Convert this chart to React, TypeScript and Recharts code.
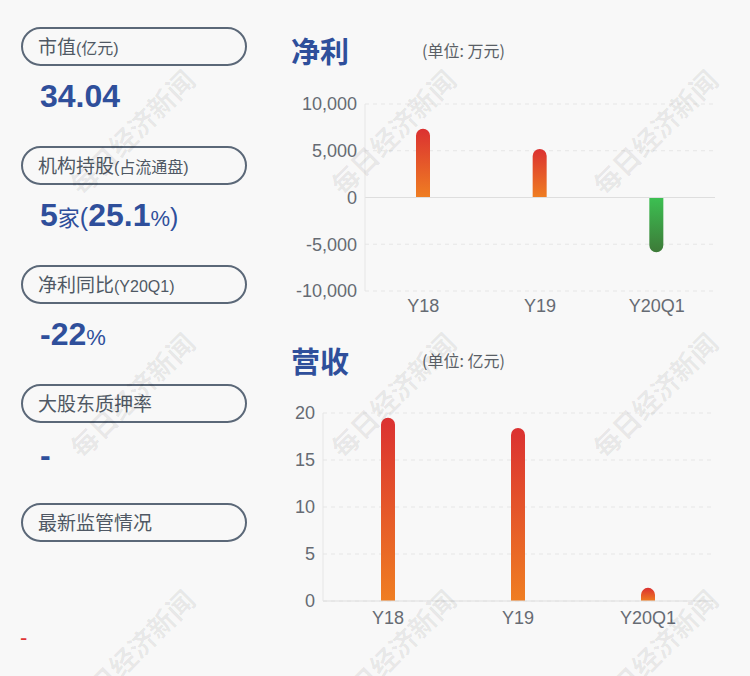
import React from 'react';
import { BarChart, Bar, XAxis, YAxis, CartesianGrid, ReferenceLine } from 'recharts';

const categories = ['Y18', 'Y19', 'Y20Q1'];
const profitValues = [7350, 5200, -5850];
const revenueValues = [19.5, 18.4, 1.4];
const profitTicks = [-10000, -5000, 0, 5000, 10000];
const revenueTicks = [0, 5, 10, 15, 20];

const BLUE = '#2f4f9b';
const FONT = "'Liberation Sans', Arial, 'Noto Sans CJK SC', sans-serif";
const CJK = "'Noto Sans CJK SC', 'Liberation Sans', sans-serif";

const profitData = categories.map((c, i) => ({ name: c, value: profitValues[i] }));
const revenueData = categories.map((c, i) => ({ name: c, value: revenueValues[i] }));

// bar with a rounded end (top for positive, bottom for negative)
function RoundBar(props: any) {
  const { x, y, width, height, payload } = props;
  if (width == null || height == null) return null;
  const neg = payload && payload.value < 0;
  const top = Math.min(y, y + height);
  const h = Math.abs(height);
  const r = Math.min(width / 2, h);
  const fill = neg ? 'url(#gradGreen)' : 'url(#gradRed)';
  let d;
  if (!neg) {
    d = `M${x},${top + h} L${x},${top + r} A${r},${r} 0 0 1 ${x + width},${top + r} L${x + width},${top + h} Z`;
  } else {
    d = `M${x},${top} L${x + width},${top} L${x + width},${top + h - r} A${r},${r} 0 0 1 ${x},${top + h - r} Z`;
  }
  return <path d={d} fill={fill} />;
}

const fmt = (v: number) => v.toLocaleString('en-US');

function Gradients() {
  return (
    <defs>
      <linearGradient id="gradRed" x1="0" y1="0" x2="0" y2="1">
        <stop offset="0%" stopColor="#db3131" />
        <stop offset="100%" stopColor="#ef7e22" />
      </linearGradient>
      <linearGradient id="gradGreen" x1="0" y1="0" x2="0" y2="1">
        <stop offset="0%" stopColor="#3cc052" />
        <stop offset="100%" stopColor="#3d7a38" />
      </linearGradient>
    </defs>
  );
}

const tickStyle = { fill: '#666b73', fontSize: 18, fontFamily: FONT };

function Pill({ top, main, sub }: { top: number; main: string; sub?: string }) {
  return (
    <div
      style={{
        position: 'absolute',
        left: 21,
        top,
        width: 226,
        height: 39,
        boxSizing: 'border-box',
        border: '2px solid #5b6878',
        borderRadius: 20,
        paddingLeft: 15,
        lineHeight: '34px',
        color: '#4f5864',
        fontFamily: CJK,
        fontSize: 19,
        whiteSpace: 'nowrap',
      }}
    >
      {main}
      {sub && <span style={{ fontSize: 16, fontFamily: FONT }}>{sub}</span>}
    </div>
  );
}

function Value({ top, children }: { top: number; children: React.ReactNode }) {
  return (
    <div
      style={{
        position: 'absolute',
        left: 40,
        top,
        height: 40,
        lineHeight: '40px',
        color: BLUE,
        fontFamily: FONT,
        fontWeight: 'bold',
        fontSize: 32,
        whiteSpace: 'nowrap',
      }}
    >
      {children}
    </div>
  );
}

const small = { fontSize: 22, fontWeight: 'normal' as const };

function Title({ top, text, unit }: { top: number; text: string; unit: string }) {
  return (
    <>
      <div
        style={{
          position: 'absolute', left: 291, top, height: 40, lineHeight: '40px',
          color: BLUE, fontFamily: CJK, fontWeight: 'bold', fontSize: 29,
        }}
      >
        {text}
      </div>
      <div
        style={{
          position: 'absolute', left: 422, top, height: 40, lineHeight: '40px',
          color: '#5a5f66', fontFamily: CJK, fontSize: 16,
        }}
      >
        {unit}
      </div>
    </>
  );
}

const marks = [132, 393, 655].flatMap((x) => [132, 395, 652].map((y) => ({ x, y })));

export default function App() {
  return (
    <div
      style={{
        position: 'absolute', left: 0, top: 0, width: 750, height: 676,
        background: '#f8f8f8', overflow: 'hidden',
      }}
    >
      <Pill top={27} main="市值" sub="(亿元)" />
      <Value top={76}>34.04</Value>
      <Pill top={146} main="机构持股" sub="(占流通盘)" />
      <Value top={195}>
        5<span style={{ ...small, fontFamily: CJK }}>家</span>
        <span style={{ fontSize: 25, fontWeight: 'normal' }}>(</span>25.1
        <span style={small}>%</span>
        <span style={{ fontSize: 25, fontWeight: 'normal' }}>)</span>
      </Value>
      <Pill top={265} main="净利同比" sub="(Y20Q1)" />
      <Value top={314}>
        -22<span style={small}>%</span>
      </Value>
      <Pill top={384} main="大股东质押率" />
      <Value top={435}>-</Value>
      <Pill top={503} main="最新监管情况" />
      <div
        style={{
          position: 'absolute', left: 20, top: 618, height: 40, lineHeight: '40px',
          color: '#e03434', fontFamily: FONT, fontSize: 22,
        }}
      >
        -
      </div>

      <Title top={30} text="净利" unit="(单位: 万元)" />
      <div style={{ position: 'absolute', left: 280, top: 90 }}>
        <BarChart
          width={450}
          height={235}
          data={profitData}
          margin={{ top: 14, right: 15, left: 0, bottom: 4 }}
        >
          <Gradients />
          <CartesianGrid vertical={false} stroke="#e6e6e6" strokeDasharray="4 4" />
          <XAxis
            dataKey="name"
            axisLine={false}
            tickLine={false}
            height={30}
            tick={tickStyle}
          />
          <YAxis
            width={85}
            domain={[-10000, 10000]}
            ticks={profitTicks}
            tickFormatter={fmt}
            axisLine={{ stroke: '#e6e6e6' }}
            tickLine={false}
            tick={tickStyle}
          />
          <ReferenceLine y={0} stroke="#dedede" />
          <Bar dataKey="value" barSize={14} shape={RoundBar} isAnimationActive={false} />
        </BarChart>
      </div>

      <Title top={340} text="营收" unit="(单位: 亿元)" />
      <div style={{ position: 'absolute', left: 280, top: 400 }}>
        <BarChart
          width={450}
          height={237}
          data={revenueData}
          margin={{ top: 13, right: 17, left: 0, bottom: 4 }}
        >
          <Gradients />
          <CartesianGrid vertical={false} stroke="#e6e6e6" strokeDasharray="4 4" />
          <XAxis
            dataKey="name"
            axisLine={false}
            tickLine={false}
            height={32}
            tick={tickStyle}
            tickMargin={4}
          />
          <YAxis
            width={43}
            domain={[0, 20]}
            ticks={revenueTicks}
            axisLine={{ stroke: '#e6e6e6' }}
            tickLine={false}
            tick={tickStyle}
          />
          <ReferenceLine y={0} stroke="#dedede" />
          <Bar dataKey="value" barSize={14} shape={RoundBar} isAnimationActive={false} />
        </BarChart>
      </div>

      {marks.map((m, i) => (
        <div
          key={i}
          style={{
            position: 'absolute', left: m.x - 90, top: m.y - 18, width: 180, height: 36,
            lineHeight: '36px', textAlign: 'center', transform: 'rotate(-45deg)',
            color: 'rgba(0,0,0,0.07)', fontFamily: CJK, fontWeight: 'bold', fontSize: 27,
            pointerEvents: 'none', whiteSpace: 'nowrap',
          }}
        >
          每日经济新闻
        </div>
      ))}
    </div>
  );
}
